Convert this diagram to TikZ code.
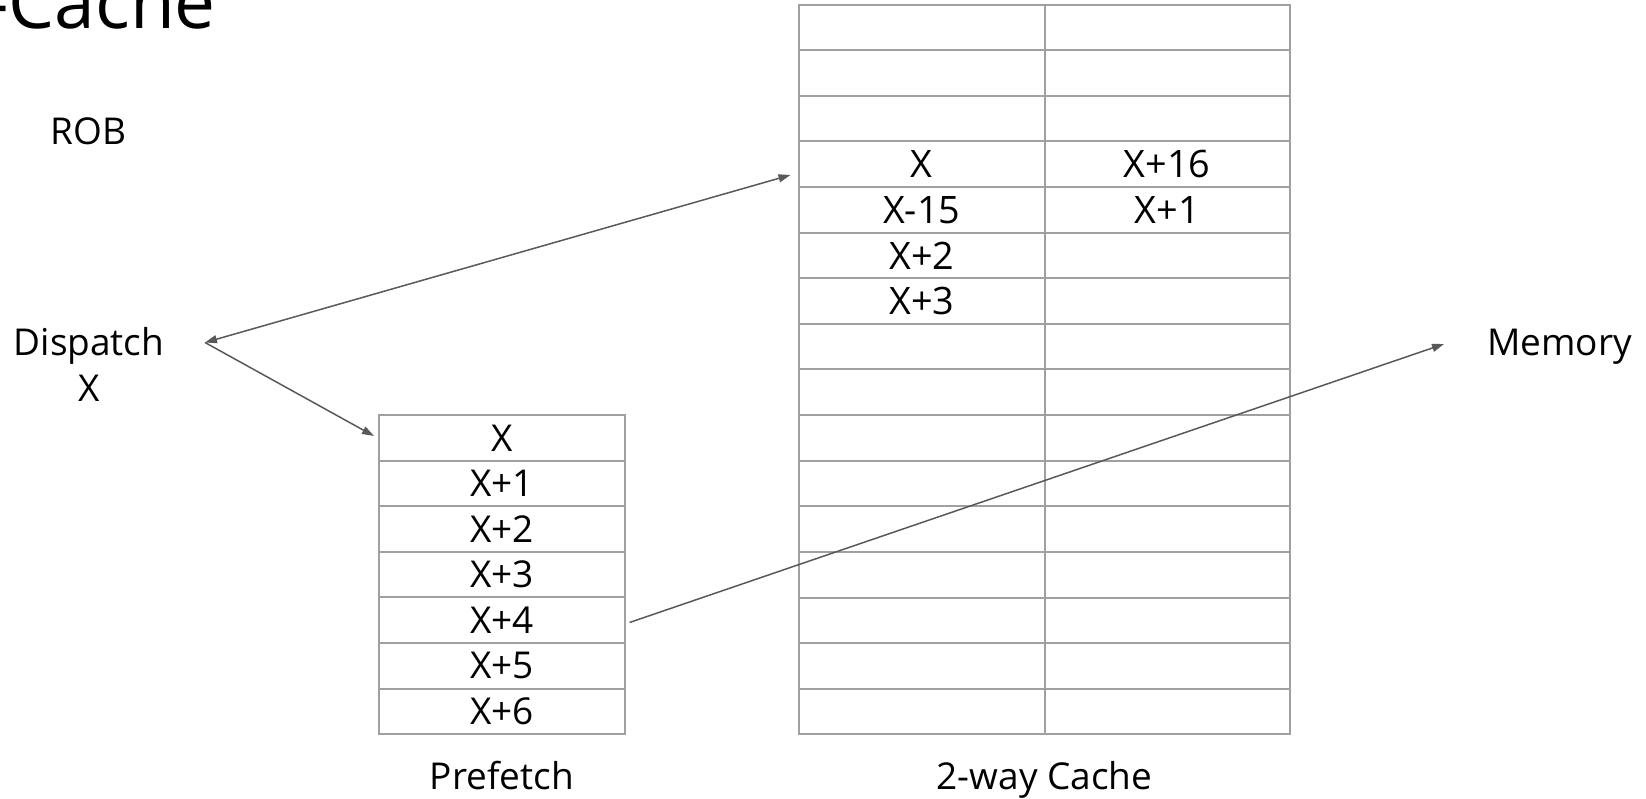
\documentclass[tikz,border=0pt]{standalone}
\usepackage{fontspec}
\setmainfont{Open Sans}
\usetikzlibrary{arrows.meta}
\definecolor{gridgray}{RGB}{160,160,160}
\definecolor{linkgray}{RGB}{89,89,89}
\begin{document}
\begin{tikzpicture}[x=1pt,y=-1pt,
  cell/.style={draw=gridgray, line width=2pt, inner sep=0pt, outer sep=0pt, minimum height=45.6pt},
  pfcell/.style={cell, minimum width=246pt, font=\fontsize{37}{44}\selectfont},
  cacell/.style={cell, minimum width=245.5pt, font=\fontsize{37.8}{45}\selectfont},
  lbl/.style={font=\fontsize{37}{46.4}\selectfont, inner sep=0pt, align=center},
  link/.style={draw=linkgray, line width=1.5pt},
  headend/.style={-{Triangle[length=12pt,width=8pt]}},
  headboth/.style={{Triangle[length=12pt,width=8pt]}-{Triangle[length=12pt,width=8pt]}}]
\useasboundingbox (0,0) rectangle (1646,799);

% title, partly running off the top-left corner
\node[font=\fontsize{73}{80}\selectfont, inner sep=0pt, anchor=base east] (title) at (216,29) {-Cache};

% side labels
\node[lbl, anchor=base] (rob) at (88.8,145) {ROB};
\node[lbl, anchor=base] (dispatch) at (89,401.7) {Dispatch\\X};
\node[lbl, anchor=base] (memory) at (1559.5,355.7) {Memory};

% prefetch buffer: 7 entries
\foreach \i/\t in {1/X,2/X+1,3/X+2,4/X+3,5/X+4,6/X+5,7/X+6}
  \node[pfcell] (pf\i) at (502,{415+45.61*(\i-0.5)}) {\t};
\node[lbl, anchor=base] (pflabel) at (502,789) {Prefetch};

% 2-way cache: 16 sets, two ways each
\foreach \i in {1,2,3,8,9,10,11,12,13,14,15,16} {
  \node[cacell] (cl\i) at (921.75,{4.7+45.6*(\i-0.5)}) {};
  \node[cacell] (cr\i) at (1167.25,{4.7+45.6*(\i-0.5)}) {};
}
\node[cacell] (cl4) at (921.75,{4.7+45.6*3.5}) {X};
\node[cacell] (cr4) at (1167.25,{4.7+45.6*3.5}) {X+16};
\node[cacell] (cl5) at (921.75,{4.7+45.6*4.5}) {X-15};
\node[cacell] (cr5) at (1167.25,{4.7+45.6*4.5}) {X+1};
\node[cacell] (cl6) at (921.75,{4.7+45.6*5.5}) {X+2};
\node[cacell] (cr6) at (1167.25,{4.7+45.6*5.5}) {};
\node[cacell] (cl7) at (921.75,{4.7+45.6*6.5}) {X+3};
\node[cacell] (cr7) at (1167.25,{4.7+45.6*6.5}) {};
\node[lbl, anchor=base] (calabel) at (1044.5,789) {2-way Cache};

% connector end points
\coordinate (dspout) at (205,342.5);
\coordinate (cachein) at (790.5,175);
\coordinate (pfin) at (374,436);
\coordinate (pfout) at (629.5,622.5);
\coordinate (memin) at (1444,344);

\draw[link, headboth] (dspout) -- (cachein);
\draw[link, headend] (dspout) -- (pfin);
\draw[link, headend] (pfout) -- (memin);
\end{tikzpicture}
\end{document}
